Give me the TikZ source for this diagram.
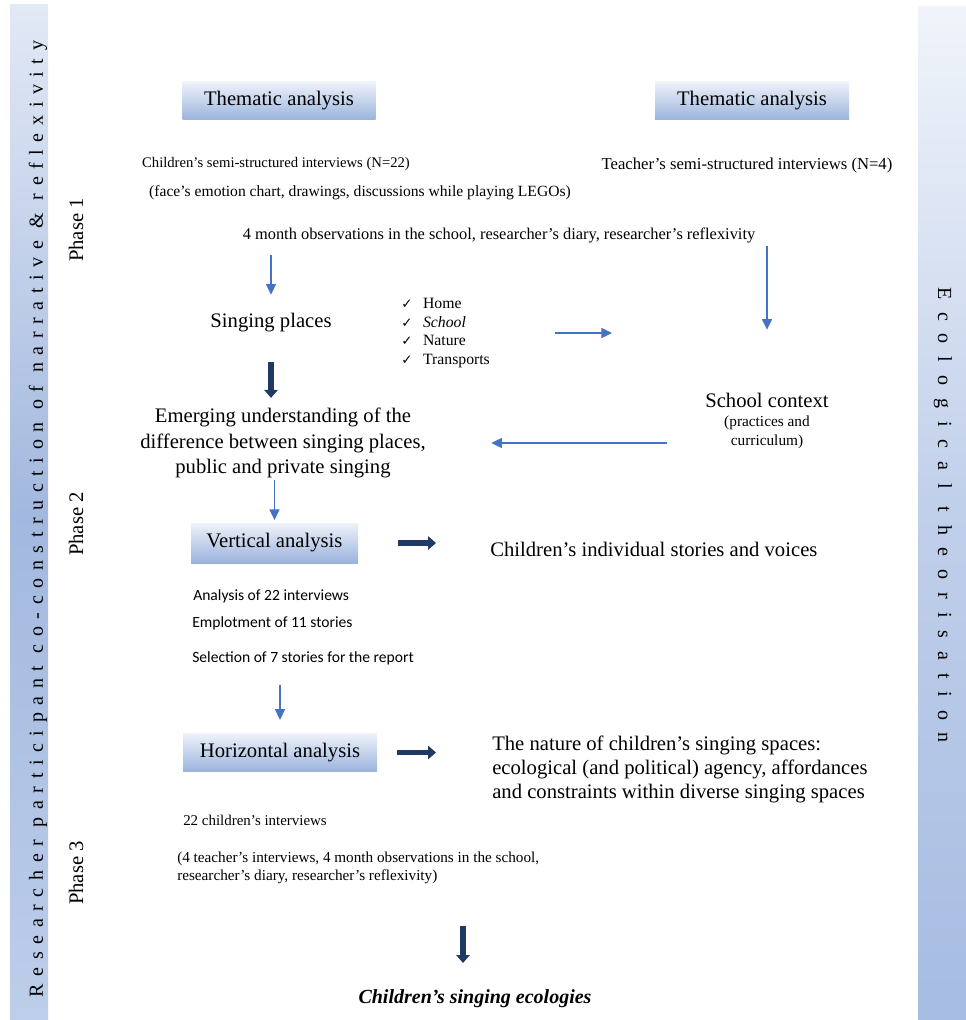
\documentclass[tikz,border=0pt]{standalone}
\usepackage{fontspec}
\setmainfont{Liberation Serif}
\newfontfamily\calfont{Carlito}
\newfontfamily\symfont{DejaVu Sans}
\newfontfamily\wideleft[LetterSpace=38]{Liberation Serif}
\newfontfamily\wideright[LetterSpace=64.5]{Liberation Serif}
\usetikzlibrary{arrows.meta}

\definecolor{arrowblue}{HTML}{4472C4}
\definecolor{navyarrow}{HTML}{203864}
\definecolor{boxtop}{HTML}{EEF2FA}
\definecolor{boxbottom}{HTML}{9AB3DD}
\definecolor{lefttop}{HTML}{E2E9F5}
\definecolor{leftmid}{HTML}{A2B8DE}
\definecolor{leftlow}{HTML}{BDCEEA}
\definecolor{righttop}{HTML}{F0F4FA}
\definecolor{rightmid}{HTML}{C0CFEA}
\definecolor{rightlow}{HTML}{A6BCE2}

\newcommand{\placecheck}{{\symfont\fontsize{10}{10}\selectfont ✓}}

\begin{document}
\begin{tikzpicture}[x=0.75pt,y=-0.75pt,
	txt/.style={inner sep=0pt},
	big/.style={txt,font=\fontsize{15.5}{19}\selectfont},
	small/.style={txt,font=\fontsize{11.5}{14}\selectfont},
	stage/.style={big,minimum height=28.5pt,top color=boxtop,bottom color=boxbottom},
	phase/.style={txt,rotate=90,font=\fontsize{15.5}{19}\selectfont},
	bluearr/.style={arrowblue,line width=1.1pt,-{Triangle[length=8pt,width=7.5pt]}},
	navyarr/.style={navyarrow,line width=4pt,-{Triangle[length=6pt,width=10pt]}}]

	\useasboundingbox (0,0) rectangle (966,1020);

	% side bands
	\shade[top color=lefttop,bottom color=leftlow,middle color=leftmid] (10,5) rectangle (48,1020);
	\shade[top color=righttop,bottom color=rightlow,middle color=rightmid] (918,7) rectangle (966,1020);
	\node[txt,rotate=90,font=\wideleft\fontsize{15}{18}\selectfont] (coconstruction) at (38,519)
		{Researcher participant co-construction of narrative \& reflexivity};
	\node[txt,rotate=-90,font=\wideright\fontsize{15}{18}\selectfont] (ecotheory) at (943,515)
		{Ecological theorisation};

	% phases
	\node[phase] (phase1) at (76,230) {Phase 1};
	\node[phase] (phase2) at (76,524) {Phase 2};
	\node[phase] (phase3) at (76,873) {Phase 3};

	% phase 1
	\node[stage,minimum width=144.75pt] (thema1) at (279,101) {Thematic analysis};
	\node[stage,minimum width=145.5pt] (thema2) at (752,101) {Thematic analysis};
	\node[small,font=\fontsize{11}{13}\selectfont] (chint) at (276,164) {Children’s semi-structured interviews (N=22)};
	\node[small,font=\fontsize{12.5}{15}\selectfont] (teint) at (747,165) {Teacher’s semi-structured interviews (N=4)};
	\node[small,font=\fontsize{11.7}{14}\selectfont] (face) at (360,193) {(face’s emotion chart, drawings, discussions while playing LEGOs)};
	\node[small,font=\fontsize{12.3}{15}\selectfont] (obs) at (499,235) {4 month observations in the school, researcher’s diary, researcher’s reflexivity};

	\node[big] (singing) at (271,323) {Singing places};
	\node[small,font=\fontsize{11.8}{14}\selectfont,align=left,anchor=west] (places) at (401,333)
		{\placecheck\hspace{8pt}Home\\ \placecheck\hspace{8pt}\textit{School}\\ \placecheck\hspace{8pt}Nature\\ \placecheck\hspace{8pt}Transports};
	\coordinate (placesout) at (612,333);

	\node[big,align=center] (emerging) at (283,443)
		{Emerging understanding of the\\difference between singing places,\\public and private singing};
	\node[big] (ctx) at (767,400) {School context};
	\node[small,align=center,font=\fontsize{11.5}{14.25}\selectfont] (ctxsub) at (767,432) {(practices and\\curriculum)};
	\coordinate (ctxout) at (667,443);

	% phase 2
	\node[stage,minimum width=125.25pt,minimum height=30pt] (vert) at (274.5,543) {Vertical analysis};
	\node[big,anchor=west] (stories) at (490,549) {Children’s individual stories and voices};
	\node[txt,anchor=west,font=\calfont\fontsize{11.7}{14}\selectfont] (ana) at (193,596) {Analysis of 22 interviews};
	\node[txt,anchor=west,font=\calfont\fontsize{11.7}{14}\selectfont] (empl) at (192,623) {Emplotment of 11 stories};
	\node[txt,anchor=west,font=\calfont\fontsize{11.7}{14}\selectfont] (sel) at (192,658) {Selection of 7 stories for the report};

	% phase 3
	\node[stage,minimum width=145.5pt,minimum height=29pt] (horiz) at (280,752.5) {Horizontal analysis};
	\node[big,align=left,anchor=west,font=\fontsize{15.5}{18}\selectfont] (nature) at (492,769)
		{The nature of children’s singing spaces:\\ecological (and political) agency, affordances\\and constraints within diverse singing spaces};
	\node[small,anchor=west,font=\fontsize{11.2}{14}\selectfont] (kids22) at (183,820) {22 children’s interviews};
	\node[small,anchor=west,align=left,font=\fontsize{11.4}{13.5}\selectfont] (others) at (177,868)
		{(4 teacher’s interviews, 4 month observations in the school,\\researcher’s diary, researcher’s reflexivity)};
	\coordinate (ecostart) at (463,926);
	\node[txt,font=\bfseries\itshape\fontsize{15}{18}\selectfont] (result) at (475,999) {Children’s singing ecologies};

	% thin arrows
	\draw[bluearr,shorten <=9.5pt,shorten >=14pt] (obs.south -| singing.north) -- (singing.north);
	\draw[bluearr,shorten <=55pt,shorten >=47pt] (teint.south -| ctx.north) -- (ctx.north);
	\draw[bluearr,shorten <=49pt] (places.east) -- (placesout);
	\draw[bluearr,shorten >=49pt] (ctxout) -- (ctxout -| emerging.east);
	\draw[bluearr,shorten <=1.5pt,shorten >=2pt] (emerging.south -| vert.north) -- (vert.north);
	\draw[bluearr,shorten <=14.7pt,shorten >=9.75pt] (sel.south -| horiz.north) -- (horiz.north);

	% thick arrows
	\draw[navyarr,shorten <=22pt,shorten >=7.5pt] (singing.south) -- (singing.south |- emerging.north);
	\draw[navyarr,shorten <=30pt,shorten >=40.5pt] (vert.east) -- (vert.east -| stories.west);
	\draw[navyarr,shorten <=15pt,shorten >=42pt] (horiz.east) -- (horiz.east -| nature.west);
	\draw[navyarr,shorten >=20pt] (ecostart) -- (ecostart |- result.north);
\end{tikzpicture}
\end{document}
